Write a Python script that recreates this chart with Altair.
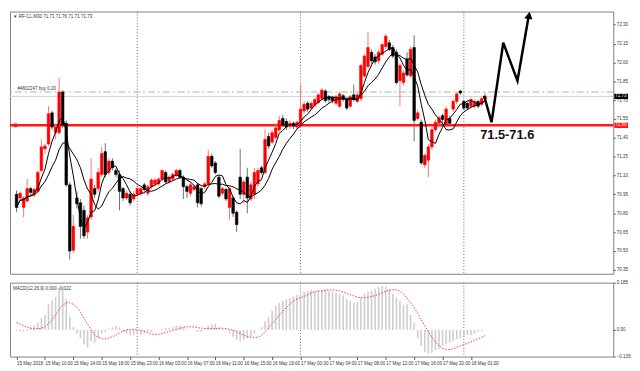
import altair as alt
import pandas as pd

# ---------------- data ----------------
time_labels = ["15 May 2018", "15 May 10:00", "15 May 14:00", "15 May 18:00", "15 May 23:00",
               "16 May 03:00", "16 May 07:00", "16 May 11:00", "16 May 15:00", "16 May 19:00",
               "17 May 00:00", "17 May 04:00", "17 May 08:00", "17 May 12:00", "17 May 16:00",
               "17 May 20:00", "18 May 01:00"]
label_bars = [0, 8, 16, 24, 32, 40, 48, 56, 64, 72, 80, 88, 96, 104, 112, 120, 128]
day_breaks = [34, 80, 126]
price_ticks = [72.30, 72.15, 72.00, 71.85, 71.70, 71.55, 71.40, 71.25, 71.10, 70.95,
               70.80, 70.65, 70.50, 70.35]
macd_ticks = [0.185, 0.0, -0.105]

opens = [70.951, 70.921, 70.846, 70.898, 70.996, 70.951, 70.974, 71.140, 71.313, 71.351,
         71.599, 71.441, 71.441, 71.765, 71.516, 71.026, 70.506, 70.921, 70.883, 70.823,
         70.650, 70.770, 70.996, 70.996, 71.109, 71.290, 71.124, 71.215, 71.140, 71.109,
         70.996, 70.921, 70.951, 70.913, 70.951, 70.959, 71.026, 70.959, 71.011, 71.034,
         71.034, 71.072, 71.124, 71.049, 71.072, 71.102, 71.140, 71.087, 71.011, 70.959,
         70.989, 71.026, 70.996, 71.011, 71.034, 71.253, 71.200, 71.087, 70.959, 70.989,
         70.846, 70.921, 70.808, 71.087, 70.951, 71.087, 70.913, 70.951, 71.034, 71.162,
         71.124, 71.411, 71.366, 71.403, 71.464, 71.554, 71.531, 71.494, 71.516, 71.486,
         71.501, 71.614, 71.675, 71.637, 71.659, 71.682, 71.712, 71.773, 71.727, 71.720,
         71.675, 71.652, 71.735, 71.705, 71.652, 71.742, 71.690, 71.712, 71.893, 71.968,
         72.081, 72.044, 72.014, 72.066, 72.127, 72.157, 72.119, 72.081, 71.855, 71.840,
         72.029, 71.893, 72.119, 71.554, 71.524, 71.185, 71.222, 71.328, 71.464, 71.516,
         71.577, 71.501, 71.554, 71.629, 71.690, 71.773, 71.690, 71.675, 71.652, 71.652,
         71.690, 71.667, 71.710]
highs = [70.981, 70.974, 70.936, 71.072, 71.011, 71.004, 71.140, 71.388, 71.351, 71.652,
         71.614, 71.516, 71.878, 71.780, 71.539, 71.049, 70.785, 70.974, 70.913, 70.861,
         70.785, 71.237, 71.026, 71.162, 71.328, 71.358, 71.237, 71.237, 71.162, 71.140,
         71.011, 70.981, 70.974, 70.974, 71.011, 71.011, 71.042, 71.026, 71.079, 71.079,
         71.087, 71.147, 71.140, 71.102, 71.124, 71.155, 71.155, 71.102, 71.026, 71.042,
         71.026, 71.042, 71.011, 71.049, 71.305, 71.275, 71.215, 71.102, 71.011, 71.004,
         71.011, 70.936, 70.823, 71.313, 71.064, 71.162, 71.049, 71.162, 71.162, 71.177,
         71.464, 71.441, 71.464, 71.516, 71.577, 71.584, 71.554, 71.539, 71.531, 71.539,
         71.825, 71.690, 71.690, 71.690, 71.720, 71.757, 71.795, 71.788, 71.742, 71.735,
         71.742, 71.765, 71.750, 71.720, 71.742, 71.825, 71.757, 71.991, 72.066, 72.240,
         72.104, 72.066, 72.104, 72.157, 72.225, 72.179, 72.142, 72.104, 71.991, 71.938,
         72.081, 72.127, 72.217, 71.622, 71.546, 71.275, 71.351, 71.486, 71.546, 71.577,
         71.592, 71.652, 71.577, 71.705, 71.765, 71.780, 71.705, 71.690, 71.720, 71.705,
         71.705, 71.727, 71.760]
lows = [70.808, 70.898, 70.770, 70.883, 70.936, 70.928, 70.959, 71.124, 71.275, 71.335,
        71.464, 71.388, 71.426, 71.479, 71.011, 70.431, 70.484, 70.838, 70.597, 70.597,
        70.597, 70.748, 70.921, 70.974, 71.087, 71.087, 71.102, 71.140, 71.087, 70.823,
        70.898, 70.906, 70.861, 70.891, 70.928, 70.936, 70.959, 70.936, 70.989, 71.011,
        71.019, 71.057, 71.034, 71.034, 71.057, 71.087, 71.072, 70.913, 70.921, 70.936,
        70.974, 70.846, 70.853, 70.989, 71.019, 71.162, 71.109, 70.921, 70.944, 70.898,
        70.748, 70.770, 70.650, 70.913, 70.876, 70.800, 70.898, 70.913, 71.011, 71.109,
        71.109, 71.313, 71.351, 71.388, 71.448, 71.486, 71.464, 71.471, 71.471, 71.471,
        71.479, 71.592, 71.607, 71.622, 71.644, 71.667, 71.697, 71.682, 71.682, 71.675,
        71.659, 71.637, 71.690, 71.622, 71.637, 71.690, 71.675, 71.690, 71.878, 71.953,
        71.991, 71.983, 71.991, 72.051, 72.104, 72.089, 72.036, 71.825, 71.652, 71.818,
        71.886, 71.878, 71.373, 71.539, 71.185, 71.162, 71.087, 71.305, 71.448, 71.494,
        71.486, 71.486, 71.501, 71.607, 71.667, 71.742, 71.622, 71.622, 71.637, 71.637,
        71.637, 71.652, 71.710]
closes = [70.846, 70.959, 70.921, 70.996, 70.966, 70.989, 71.124, 71.328, 71.335, 71.592,
          71.486, 71.486, 71.765, 71.501, 71.026, 70.499, 70.695, 70.876, 70.695, 70.620,
          70.763, 71.072, 70.951, 71.124, 71.275, 71.109, 71.215, 71.162, 71.109, 70.974,
          70.921, 70.959, 70.883, 70.951, 70.996, 70.996, 70.989, 71.011, 71.064, 71.064,
          71.072, 71.140, 71.049, 71.087, 71.109, 71.140, 71.087, 71.011, 70.974, 71.026,
          71.011, 70.883, 70.876, 71.034, 71.253, 71.177, 71.124, 70.936, 70.996, 70.913,
          70.996, 70.800, 70.710, 70.951, 71.049, 70.921, 71.026, 71.124, 71.140, 71.124,
          71.388, 71.335, 71.441, 71.479, 71.539, 71.501, 71.486, 71.516, 71.494, 71.524,
          71.629, 71.667, 71.629, 71.675, 71.705, 71.742, 71.780, 71.697, 71.705, 71.697,
          71.727, 71.750, 71.705, 71.637, 71.727, 71.705, 71.742, 71.976, 72.051, 72.119,
          72.014, 72.006, 72.081, 72.142, 72.210, 72.104, 72.051, 71.840, 71.976, 71.916,
          71.901, 72.104, 71.539, 71.599, 71.200, 71.260, 71.328, 71.464, 71.524, 71.561,
          71.546, 71.629, 71.516, 71.690, 71.750, 71.757, 71.637, 71.637, 71.705, 71.690,
          71.652, 71.712, 71.730]
macd_main = [-0.005, -0.006, -0.008, -0.005, 0.010, 0.016, 0.028, 0.046, 0.058, 0.100,
             0.116, 0.128, 0.161, 0.169, 0.119, 0.052, 0.010, -0.015, -0.033, -0.057,
             -0.069, -0.045, -0.051, -0.033, -0.015, -0.008, 0.004, 0.010, 0.016, 0.010,
             -0.008, -0.015, -0.021, -0.021, -0.015, -0.021, -0.015, -0.008, -0.008, -0.002,
             0.000, 0.004, 0.007, 0.007, 0.012, 0.016, 0.016, 0.012, 0.004, 0.000,
             -0.002, -0.008, -0.008, -0.002, 0.016, 0.022, 0.024, 0.010, 0.004, -0.002,
             -0.015, -0.027, -0.039, -0.045, -0.039, -0.033, -0.027, -0.015, -0.002, 0.010,
             0.034, 0.052, 0.076, 0.094, 0.106, 0.113, 0.119, 0.125, 0.131, 0.137,
             0.140, 0.149, 0.152, 0.155, 0.152, 0.155, 0.155, 0.157, 0.152, 0.149,
             0.145, 0.140, 0.137, 0.119, 0.113, 0.106, 0.109, 0.125, 0.143, 0.149,
             0.155, 0.161, 0.167, 0.173, 0.169, 0.161, 0.140, 0.125, 0.113, 0.097,
             0.100, 0.058, 0.028, -0.033, -0.063, -0.087, -0.093, -0.090, -0.081, -0.075,
             -0.063, -0.057, -0.051, -0.045, -0.036, -0.033, -0.027, -0.021, -0.021, -0.015,
             -0.008, -0.005, 0.000]
macd_signal = [0.028, 0.022, 0.016, 0.010, 0.006, 0.004, 0.004, 0.006, 0.012, 0.024,
               0.040, 0.058, 0.080, 0.097, 0.106, 0.106, 0.100, 0.088, 0.070, 0.046,
               0.022, 0.000, -0.021, -0.030, -0.035, -0.035, -0.033, -0.027, -0.021, -0.012,
               -0.005, 0.000, 0.001, 0.001, 0.000, -0.002, -0.006, -0.011, -0.017, -0.018,
               -0.017, -0.015, -0.011, -0.007, -0.002, 0.001, 0.005, 0.010, 0.012, 0.012,
               0.011, 0.008, 0.007, 0.005, 0.005, 0.005, 0.005, 0.006, 0.006, 0.005,
               0.002, -0.002, -0.008, -0.015, -0.021, -0.027, -0.029, -0.030, -0.029, -0.021,
               -0.008, 0.007, 0.024, 0.040, 0.056, 0.073, 0.087, 0.102, 0.113, 0.121,
               0.126, 0.131, 0.138, 0.145, 0.150, 0.152, 0.152, 0.155, 0.157, 0.157,
               0.155, 0.152, 0.149, 0.143, 0.137, 0.133, 0.128, 0.126, 0.126, 0.127,
               0.131, 0.134, 0.140, 0.145, 0.152, 0.155, 0.157, 0.157, 0.152, 0.140,
               0.125, 0.106, 0.088, 0.064, 0.040, 0.016, -0.008, -0.029, -0.048, -0.063,
               -0.073, -0.077, -0.077, -0.075, -0.069, -0.063, -0.058, -0.053, -0.048, -0.041,
               -0.035, -0.029, -0.023]

support_level = 71.50
order_level = 71.765
bid_level = 71.73
arrow_bar = [131.7, 133.8, 137.1, 141.1, 144.2]
arrow_price = [71.735, 71.524, 72.157, 71.855, 72.36]
target_text = "71.5-71.6"
header_text = "\u25bc RF-CL,M30  71.71 71.76 71.71 71.73"
order_text = "#4602247 buy 0.20"
macd_text = "MACD(12,26,9) 0.000 -0.022"

# ---------------- chart ----------------
W, H1, H2 = 612, 266, 75
FONT = "Liberation Sans"
SMALL = 4.6
XD = [-0.46, 166.7]
YD = [70.318, 72.4055]
MD = [-0.105, 0.185]

def xs():
    return alt.Scale(domain=XD, nice=False, zero=False)

def ys():
    return alt.Scale(domain=YD, nice=False, zero=False)

def ms():
    return alt.Scale(domain=MD, nice=False, zero=False)

df = pd.DataFrame({
    "i": list(range(len(closes))),
    "open": opens, "high": highs, "low": lows, "close": closes,
    "macd": macd_main, "signal": macd_signal,
})
base = alt.Chart(df)
bull = "datum.close >= datum.open"

price_axis = alt.Axis(orient="right", values=price_ticks, format=".2f", labelOverlap=False,
                      tickSize=2, labelPadding=1, labelBound=False)

seps_df = pd.DataFrame({"d": day_breaks})
seps = alt.Chart(seps_df).mark_rule(color="#666666", strokeDash=[1, 2], strokeWidth=1).encode(
    x=alt.X("d:Q", scale=xs(), axis=None))

lvl_df = pd.DataFrame({"p": [support_level], "o": [order_level], "b": [bid_level],
                       "x0": [-0.3], "t": [order_text]})
order_line = alt.Chart(lvl_df).mark_rule(color="#8cc88c", strokeDash=[7, 3, 2, 3], strokeWidth=1).encode(
    y=alt.Y("o:Q", scale=ys(), title=None, axis=price_axis))
bid_line = alt.Chart(lvl_df).mark_rule(color="#cfcfcf", strokeWidth=1).encode(
    y=alt.Y("b:Q", scale=ys(), title=None, axis=price_axis))
red_line = alt.Chart(lvl_df).mark_rule(color="#ff1a1a", strokeWidth=2.5).encode(
    y=alt.Y("p:Q", scale=ys(), title=None, axis=price_axis))
red_sq = alt.Chart(lvl_df).mark_point(shape="square", filled=True, size=14, color="#ff1a1a", opacity=1).encode(
    x=alt.X("x0:Q", scale=xs(), axis=None), y=alt.Y("p:Q", scale=ys(), title=None, axis=price_axis))
order_lbl = alt.Chart(lvl_df).mark_text(align="left", baseline="bottom", dy=-1, dx=2, fontSize=SMALL,
                                        font=FONT, color="#333333").encode(
    x=alt.X("x0:Q", scale=xs(), axis=None), y=alt.Y("o:Q", scale=ys(), title=None, axis=price_axis),
    text="t:N")

wicks = base.mark_rule(strokeWidth=1).encode(
    x=alt.X("i:Q", scale=xs(), axis=None),
    y=alt.Y("low:Q", scale=ys(), title=None, axis=price_axis),
    y2="high:Q",
    color=alt.condition(bull, alt.value("#ff7474"), alt.value("#707070")),
)
bodies = base.mark_bar(size=2.6, strokeWidth=0.6).encode(
    x=alt.X("i:Q", scale=xs(), axis=None),
    y=alt.Y("open:Q", scale=ys(), title=None, axis=price_axis),
    y2="close:Q",
    color=alt.condition(bull, alt.value("#ff0000"), alt.value("#000000")),
    stroke=alt.condition(bull, alt.value("#ff0000"), alt.value("#000000")),
)
ma_fast = base.transform_window(ma5="mean(close)", frame=[-4, 0]).mark_line(
    color="#000000", strokeWidth=1).encode(x=alt.X("i:Q", scale=xs(), axis=None),
                                           y=alt.Y("ma5:Q", scale=ys(), title=None, axis=price_axis))
ma_slow = base.transform_window(ma10="mean(close)", frame=[-9, 0]).mark_line(
    color="#000000", strokeWidth=1).encode(x=alt.X("i:Q", scale=xs(), axis=None),
                                           y=alt.Y("ma10:Q", scale=ys(), title=None, axis=price_axis))

arrow_df = pd.DataFrame({"ai": arrow_bar, "ap": arrow_price})
arrow = alt.Chart(arrow_df).mark_line(color="#000000", strokeWidth=2.5, strokeJoin="miter").encode(
    x=alt.X("ai:Q", scale=xs(), axis=None), y=alt.Y("ap:Q", scale=ys(), title=None, axis=price_axis))
head_df = pd.DataFrame({"hx": [arrow_bar[-1] + 0.15], "hy": [arrow_price[-1] + 0.015]})
head = alt.Chart(head_df).mark_point(shape="triangle-up", filled=True, size=70, angle=10,
                                     color="#000000", opacity=1).encode(
    x=alt.X("hx:Q", scale=xs(), axis=None), y=alt.Y("hy:Q", scale=ys(), title=None, axis=price_axis))

tgt_df = pd.DataFrame({"tx": [130.6], "ty": [71.426], "t": [target_text]})
target = alt.Chart(tgt_df).mark_text(align="left", baseline="middle", fontSize=13, fontWeight="bold",
                                     font=FONT, color="#111111").encode(
    x=alt.X("tx:Q", scale=xs(), axis=None), y=alt.Y("ty:Q", scale=ys(), title=None, axis=price_axis),
    text="t:N")

hdr_df = pd.DataFrame({"t": [header_text]})
header = alt.Chart(hdr_df).mark_text(align="left", baseline="top", fontSize=SMALL, font=FONT,
                                     color="#333333").encode(
    x=alt.value(3), y=alt.value(3), text="t:N")

box_df = pd.DataFrame({"p": [support_level, bid_level], "t": ["71.50", "71.73"],
                       "c": ["#ff1a1a", "#000000"]})
boxes = alt.Chart(box_df).mark_rule(strokeWidth=5.5).encode(
    x=alt.value(W + 1), x2=alt.value(W + 15), y=alt.Y("p:Q", scale=ys(), title=None, axis=price_axis),
    color=alt.Color("c:N", scale=None))
box_txt = alt.Chart(box_df).mark_text(align="left", baseline="middle", fontSize=SMALL, font=FONT,
                                      color="#ffffff").encode(
    x=alt.value(W + 2), y=alt.Y("p:Q", scale=ys(), title=None, axis=price_axis), text="t:N")

main = alt.layer(
    seps, order_line, bid_line, red_line, red_sq, wicks, bodies, ma_fast, ma_slow,
    arrow, head, target, header, order_lbl, boxes, box_txt
).properties(width=W, height=H1)

label_expr = "[" + ",".join("'" + s + "'" for s in time_labels) + "][round(datum.value / 8)]"
time_axis = alt.Axis(values=label_bars, labelExpr=label_expr, labelAlign="left",
                     tickSize=3, labelPadding=1, labelOverlap=False, labelFlush=False, labelBound=False)
macd_axis = alt.Axis(orient="right", values=macd_ticks, labelOverlap=False, tickSize=2,
                     labelPadding=1, labelBound=False,
                     labelExpr="datum.value == 0 ? '0.00' : format(datum.value, '.3f')")
hist = base.mark_bar(size=1.6, color="#cdcdcd").encode(
    x=alt.X("i:Q", scale=xs(), title=None, axis=time_axis),
    y=alt.Y("macd:Q", scale=ms(), title=None, axis=macd_axis),
)
sig = base.mark_line(color="#ff3b3b", strokeDash=[1.5, 1.5], strokeWidth=1).encode(
    x=alt.X("i:Q", scale=xs(), title=None, axis=time_axis),
    y=alt.Y("signal:Q", scale=ms(), title=None, axis=macd_axis))
seps2 = alt.Chart(seps_df).mark_rule(color="#666666", strokeDash=[1, 2], strokeWidth=1).encode(
    x=alt.X("d:Q", scale=xs(), title=None, axis=time_axis))
mlbl_df = pd.DataFrame({"t": [macd_text]})
mlbl = alt.Chart(mlbl_df).mark_text(align="left", baseline="top", fontSize=SMALL, font=FONT,
                                    color="#333333").encode(
    x=alt.value(3), y=alt.value(3), text="t:N")

macd = alt.layer(seps2, hist, sig, mlbl).properties(width=W, height=H2)

chart = alt.vconcat(main, macd, spacing=4).properties(
    padding={"left": 0, "top": 0, "right": 0, "bottom": 0}
).configure_view(
    stroke="#808080", strokeWidth=1
).configure_axis(
    domain=False, grid=False, tickColor="#555555", labelColor="#333333",
    labelFont=FONT, labelFontSize=SMALL, labelOverlap=False
)

chart.save("out.html", embed_options={"renderer": "svg", "actions": False})
